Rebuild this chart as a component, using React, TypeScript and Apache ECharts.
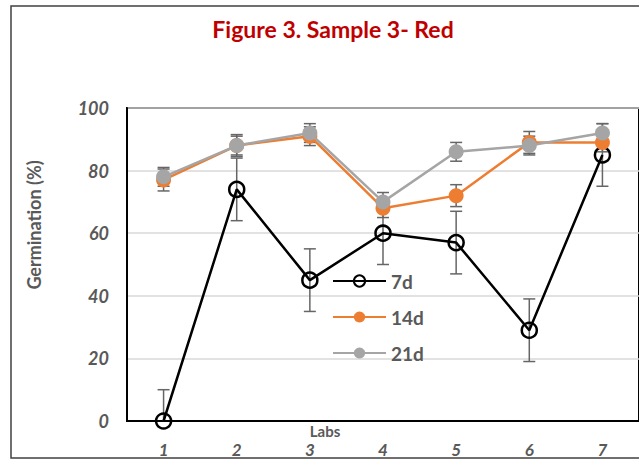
import React, { useEffect, useRef } from "react";
import * as echarts from "echarts";

const categories = ["1", "2", "3", "4", "5", "6", "7"];
const d7 = [0, 74, 45, 60, 57, 29, 85];
const d14 = [77, 88, 91, 68, 72, 89, 89];
const d21 = [78, 88, 92, 70, 86, 88, 92];
const err7 = [10, 10, 10, 10, 10, 10, 10];
const err14 = [3.5, 3.5, 3, 3, 3.5, 3.5, 3];
const err21 = [3, 3, 3, 3, 3, 3, 3];
const yTicks = { min: 0, max: 100, interval: 20 };

const FONT = "Lato, 'Open Sans', sans-serif";
const GREY_TXT = "#595959";

function errorSeries(name: string, vals: number[], errs: number[], z: number) {
  return {
    type: "custom",
    name: name + "-err",
    z,
    clip: true,
    silent: true,
    data: vals.map((v, i) => [i, v - errs[i], v + errs[i]]),
    renderItem: (params: any, api: any) => {
      const x = api.value(0);
      const top = api.coord([x, api.value(2)]);
      const bot = api.coord([x, api.value(1)]);
      const w = 6;
      const style = { stroke: "#666666", lineWidth: 1.5 };
      return {
        type: "group",
        children: [
          { type: "line", shape: { x1: top[0], y1: top[1], x2: bot[0], y2: bot[1] }, style },
          { type: "line", shape: { x1: top[0] - w, y1: top[1], x2: top[0] + w, y2: top[1] }, style },
          { type: "line", shape: { x1: bot[0] - w, y1: bot[1], x2: bot[0] + w, y2: bot[1] }, style },
        ],
      };
    },
  };
}

export default function App() {
  const ref = useRef<HTMLDivElement>(null);
  useEffect(() => {
    if (!ref.current) return;
    const chart = echarts.init(ref.current, null, { renderer: "svg" });
    chart.setOption({
      animation: false,
      backgroundColor: "#ffffff",
      grid: {
        left: 127,
        top: 108,
        width: 518,
        height: 313,
        show: true,
        borderColor: "#000",
        borderWidth: 2,
      },
      legend: {
        orient: "vertical",
        left: 327,
        top: 266,
        itemWidth: 53,
        itemHeight: 14,
        itemGap: 16,
        data: ["7d", "14d", "21d"],
        textStyle: { fontSize: 19, fontWeight: "bold", color: GREY_TXT, fontFamily: FONT, lineHeight: 20 },
      },
      xAxis: {
        type: "category",
        data: categories,
        boundaryGap: true,
        axisTick: { show: false },
        axisLine: { lineStyle: { color: "#000", width: 2 } },
        axisLabel: {
          fontStyle: "italic",
          fontWeight: "bold",
          fontSize: 17,
          color: GREY_TXT,
          fontFamily: FONT,
          margin: 20,
        },
      },
      yAxis: {
        type: "value",
        min: yTicks.min,
        max: yTicks.max,
        interval: yTicks.interval,
        axisLine: { show: true, lineStyle: { color: "#000", width: 2 } },
        axisTick: { show: false },
        splitLine: { lineStyle: { color: "#D9D9D9", width: 1.5 } },
        axisLabel: {
          fontStyle: "italic",
          fontWeight: "bold",
          fontSize: 18,
          color: GREY_TXT,
          fontFamily: FONT,
          margin: 18,
        },
      },
      graphic: [
        {
          type: "rect",
          z: -10,
          shape: { x: 11, y: 6, width: 700, height: 452 },
          style: { fill: "none", stroke: "#404040", lineWidth: 1.5 },
        },
        {
          type: "text",
          x: 333,
          y: 29,
          style: {
            text: "Figure 3. Sample 3- Red",
            fill: "#C00000",
            fontSize: 23,
            fontWeight: "bold",
            fontFamily: FONT,
            textAlign: "center",
            textVerticalAlign: "middle",
          },
        },
        {
          type: "text",
          x: 34,
          y: 225,
          rotation: Math.PI / 2,
          style: {
            text: "Germination (%)",
            fill: GREY_TXT,
            fontSize: 18,
            fontWeight: "bold",
            fontFamily: FONT,
            textAlign: "center",
            textVerticalAlign: "middle",
          },
        },
        {
          type: "text",
          x: 325,
          y: 431,
          style: {
            text: "Labs",
            fill: GREY_TXT,
            fontSize: 15,
            fontWeight: "bold",
            fontFamily: FONT,
            textAlign: "center",
            textVerticalAlign: "middle",
          },
        },
      ],
      series: [
        errorSeries("7d", d7, err7, 1),
        errorSeries("14d", d14, err14, 1),
        errorSeries("21d", d21, err21, 1),
        {
          type: "line",
          name: "7d",
          data: d7,
          z: 2,
          symbol: "circle",
          symbolSize: 15,
          lineStyle: { color: "#000", width: 2.5 },
          itemStyle: { color: "rgba(0,0,0,0)", borderColor: "#000", borderWidth: 2.5 },
        },
        {
          type: "line",
          name: "14d",
          data: d14,
          z: 3,
          symbol: "circle",
          symbolSize: 15,
          lineStyle: { color: "#ED7D31", width: 2.5 },
          itemStyle: { color: "#ED7D31" },
        },
        {
          type: "line",
          name: "21d",
          data: d21,
          z: 4,
          symbol: "circle",
          symbolSize: 15,
          lineStyle: { color: "#A5A5A5", width: 2.5 },
          itemStyle: { color: "#A5A5A5" },
        },
      ],
    });
    return () => chart.dispose();
  }, []);
  return (
    <div
      ref={ref}
      style={{ position: "fixed", left: 0, top: 0, width: 639, height: 459 }}
    />
  );
}
